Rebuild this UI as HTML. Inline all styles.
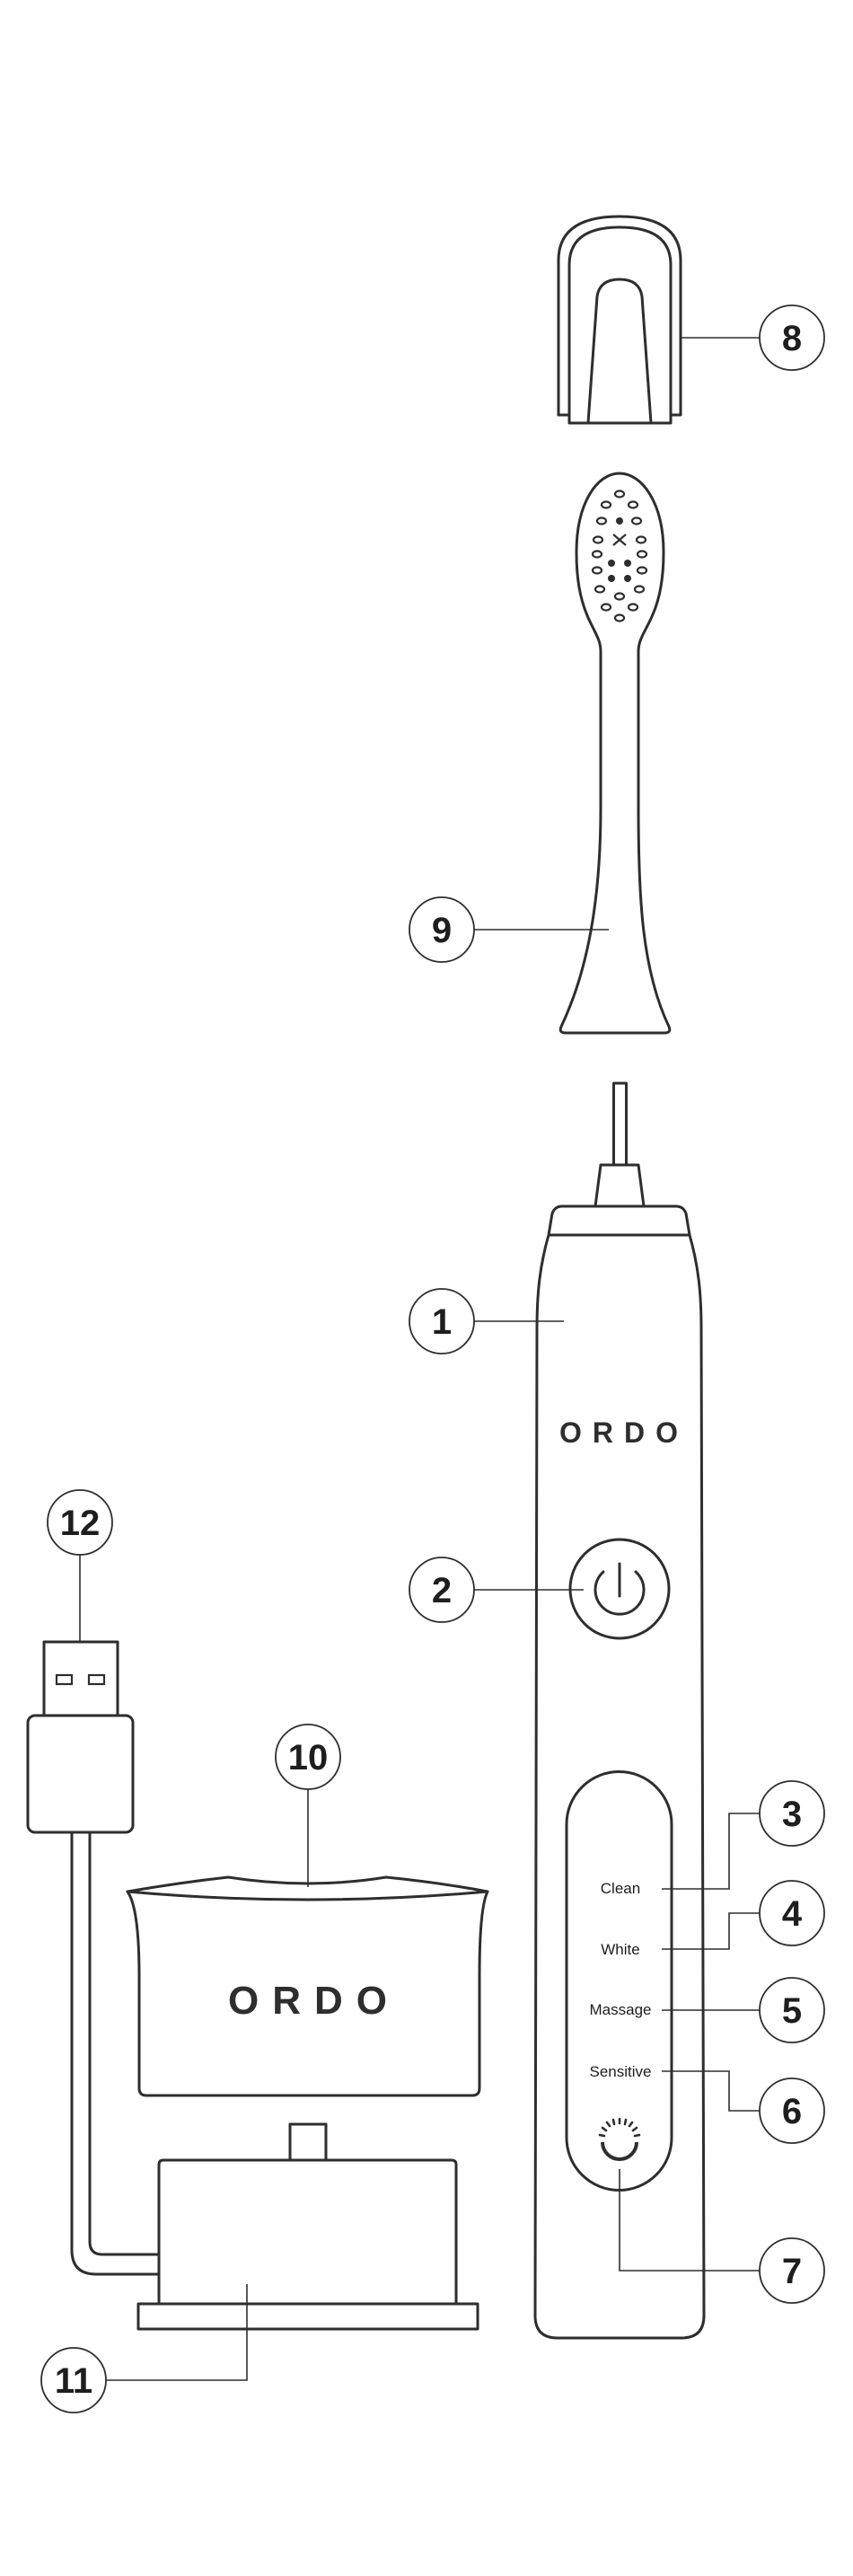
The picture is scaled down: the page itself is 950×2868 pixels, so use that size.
<!DOCTYPE html>
<html><head><meta charset="utf-8"><style>
html,body{margin:0;padding:0;background:#fff;}
svg{display:block;}
.o{fill:none;stroke:#2e2e2e;stroke-width:3;stroke-linejoin:round;stroke-linecap:round;}
.l{fill:none;stroke:#2e2e2e;stroke-width:1.6;}
.c{fill:#fff;stroke:#2e2e2e;stroke-width:1.8;}
.n{font-family:"Liberation Sans",sans-serif;font-weight:bold;font-size:40px;fill:#1e1e1e;text-anchor:middle;}
.m{font-family:"Liberation Sans",sans-serif;font-size:17px;fill:#1e1e1e;text-anchor:middle;}
.b{font-family:"Liberation Sans",sans-serif;font-weight:bold;fill:#2e2e2e;text-anchor:middle;}
</style></head><body>
<svg width="950" height="2868" viewBox="0 0 950 2868" xmlns="http://www.w3.org/2000/svg">
<!-- Cap (8) -->
<path class="o" d="M622 462 L622 290 Q622 241 690 241 Q758 241 758 290 L758 462 L747 462"/>
<path class="o" d="M634 471 L634 295 Q634 253 690 253 Q747 253 747 295 L747 471 Z"/>
<path class="o" d="M655 471 L665 330 Q668 311 690 311 Q712 311 715 330 L725 471"/>
<path class="o" d="M622 462 L634 462"/>
<line class="l" x1="758" y1="376" x2="846" y2="376"/>
<circle class="c" cx="882" cy="376" r="36"/><text class="n" x="882" y="390">8</text>

<!-- Brush head (9) -->
<path class="o" d="M669 725 L669 900 C669 1000 655 1080 625 1143 Q622 1150 630 1150 L740 1150 Q748 1150 745 1143 C715 1080 711 1000 711 900 L711 725 C711 700 739 690 739 615 C739 560 715 527 690 527 C665 527 642 560 642 615 C642 690 669 700 669 725 Z"/>
<g fill="none" stroke="#2e2e2e" stroke-width="2.2">
<ellipse cx="690" cy="550" rx="5" ry="3.5"/>
<ellipse cx="675" cy="562" rx="5" ry="3.5"/><ellipse cx="705" cy="562" rx="5" ry="3.5"/>
<ellipse cx="670" cy="580" rx="5" ry="3.5"/><ellipse cx="709" cy="580" rx="5" ry="3.5"/>
<ellipse cx="666" cy="601" rx="5" ry="3.5"/><ellipse cx="714" cy="601" rx="5" ry="3.5"/>
<ellipse cx="665" cy="617" rx="5" ry="3.5"/><ellipse cx="715" cy="617" rx="5" ry="3.5"/>
<ellipse cx="665" cy="635" rx="5" ry="3.5"/><ellipse cx="715" cy="635" rx="5" ry="3.5"/>
<ellipse cx="668" cy="656" rx="5" ry="3.5"/><ellipse cx="712" cy="656" rx="5" ry="3.5"/>
<ellipse cx="690" cy="664" rx="5" ry="3.5"/>
<ellipse cx="675" cy="676" rx="5" ry="3.5"/><ellipse cx="705" cy="676" rx="5" ry="3.5"/>
<ellipse cx="690" cy="688" rx="5" ry="3.5"/>
<path d="M683 595 L697 607 M697 595 L683 607"/>
</g>
<g fill="#2e2e2e"><circle cx="690" cy="580" r="4"/><circle cx="681" cy="627" r="4"/><circle cx="699" cy="627" r="4"/><circle cx="681" cy="644" r="4"/><circle cx="699" cy="644" r="4"/></g>
<line class="l" x1="528" y1="1035" x2="678" y2="1035"/>
<circle class="c" cx="492" cy="1035" r="36"/><text class="n" x="492" y="1049">9</text>

<!-- Handle (1) -->
<rect class="o" x="683.5" y="1206" width="14" height="91"/>
<path class="o" d="M669 1297 L711 1297 L717 1343 L663 1343 Z"/>
<path class="o" d="M626 1343 L753 1343 Q761 1343 764 1351 L768 1375 C778 1410 781 1440 781 1480 L784 2578 Q784 2603 759 2603 L621 2603 Q596 2603 596 2578 L598 1480 C598 1440 601 1410 611 1375 L615 1351 Q618 1343 626 1343 Z"/>
<line class="o" x1="612" y1="1375" x2="768" y2="1375"/>
<line class="l" x1="528" y1="1471" x2="628" y2="1471"/>
<circle class="c" cx="492" cy="1471" r="36"/><text class="n" x="492" y="1485">1</text>
<text class="b" x="695" y="1606" font-size="32" letter-spacing="12">ORDO</text>
<!-- Power (2) -->
<circle class="o" cx="690" cy="1769" r="55"/>
<path class="o" d="M672 1750 A27 27 0 1 0 708 1750"/>
<line class="o" x1="690" y1="1741" x2="690" y2="1777"/>
<line class="l" x1="528" y1="1770" x2="650" y2="1770"/>
<circle class="c" cx="492" cy="1770" r="36"/><text class="n" x="492" y="1784">2</text>
<!-- Mode panel -->
<path class="o" d="M631 2380 L631 2031 A58.5 58.5 0 0 1 748 2031 L748 2380 A58.5 58.5 0 0 1 631 2380 Z"/>
<text class="m" x="691" y="2108">Clean</text>
<text class="m" x="691" y="2176">White</text>
<text class="m" x="691" y="2243">Massage</text>
<text class="m" x="691" y="2312">Sensitive</text>
<path class="l" d="M737 2103 L812 2103 L812 2019 L846 2019"/>
<path class="l" d="M737 2170 L812 2170 L812 2130 L846 2130"/>
<path class="l" d="M737 2238 L846 2238"/>
<path class="l" d="M737 2306 L812 2306 L812 2350 L846 2350"/>
<circle class="c" cx="882" cy="2019" r="36"/><text class="n" x="882" y="2033">3</text>
<circle class="c" cx="882" cy="2130" r="36"/><text class="n" x="882" y="2144">4</text>
<circle class="c" cx="882" cy="2238" r="36"/><text class="n" x="882" y="2252">5</text>
<circle class="c" cx="882" cy="2350" r="36"/><text class="n" x="882" y="2364">6</text>
<!-- Icon 7 -->
<path d="M671 2385 A19 19 0 0 0 709 2385" fill="none" stroke="#2e2e2e" stroke-width="4"/>
<g stroke="#2e2e2e" stroke-width="2.6" stroke-linecap="round">
<line x1="673" y1="2378" x2="668" y2="2377"/><line x1="675" y1="2372" x2="671" y2="2369"/>
<line x1="679" y1="2367" x2="676" y2="2363"/><line x1="684" y1="2365" x2="683" y2="2360"/>
<line x1="690" y1="2364" x2="690" y2="2359"/><line x1="696" y1="2365" x2="697" y2="2360"/>
<line x1="701" y1="2367" x2="704" y2="2363"/><line x1="705" y1="2372" x2="709" y2="2369"/>
<line x1="707" y1="2378" x2="712" y2="2377"/></g>
<path class="l" d="M690 2415 L690 2528 L846 2528"/>
<circle class="c" cx="882" cy="2528" r="36"/><text class="n" x="882" y="2542">7</text>

<!-- USB (12) -->
<line class="l" x1="89" y1="1731" x2="89" y2="1828"/>
<circle class="c" cx="89" cy="1695" r="36"/><text class="n" x="89" y="1709">12</text>
<rect class="o" x="49" y="1828" width="82" height="82"/>
<rect x="63" y="1865" width="17" height="10" fill="none" stroke="#2e2e2e" stroke-width="2.2"/>
<rect x="99" y="1865" width="17" height="10" fill="none" stroke="#2e2e2e" stroke-width="2.2"/>
<rect class="o" x="31" y="1910" width="117" height="130" rx="8"/>
<path class="o" d="M80 2040 L80 2505 Q80 2532 107 2532 L177 2532"/>
<path class="o" d="M100 2040 L100 2496 Q100 2510 114 2510 L177 2510"/>

<!-- Cup (10) -->
<path class="o" d="M142 2106 Q200 2096 254 2090 Q343 2104 430 2090 Q490 2096 543 2106 C536 2120 534 2160 534 2200 L534 2325 Q534 2333 526 2333 L163 2333 Q155 2333 155 2325 L155 2200 C155 2160 152 2120 142 2106 Z"/>
<path class="o" d="M142 2106 Q343 2124 543 2106"/>
<text class="b" x="350" y="2242" font-size="44" letter-spacing="15">ORDO</text>
<line class="l" x1="343" y1="1992" x2="343" y2="2101"/>
<circle class="c" cx="343" cy="1956" r="36"/><text class="n" x="343" y="1970">10</text>

<!-- Base (11) -->
<rect class="o" x="323" y="2365" width="40" height="40"/>
<path class="o" d="M177 2565 L177 2410 Q177 2405 182 2405 L503 2405 Q508 2405 508 2410 L508 2565"/>
<rect class="o" x="154" y="2565" width="378" height="28"/>
<path class="l" d="M118 2650 L275 2650 L275 2543"/>
<circle class="c" cx="82" cy="2650" r="36"/><text class="n" x="82" y="2664">11</text>
</svg>
</body></html>
